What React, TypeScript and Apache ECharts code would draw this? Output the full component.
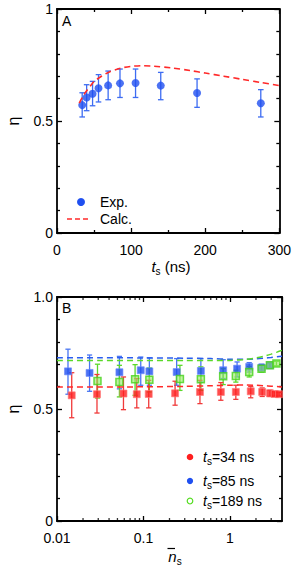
import React, { useEffect, useRef } from 'react';
import * as echarts from 'echarts';

// ---------- Panel A data ----------
const tsExp = [34, 40, 48, 56, 69, 85, 106, 140, 189, 275];
const etaExp = [0.571, 0.605, 0.622, 0.646, 0.659, 0.668, 0.670, 0.658, 0.625, 0.579];
const etaExpLo = [0.518, 0.546, 0.568, 0.585, 0.595, 0.605, 0.605, 0.595, 0.561, 0.518];
const etaExpHi = [0.626, 0.662, 0.677, 0.707, 0.723, 0.732, 0.732, 0.717, 0.688, 0.640];

const tsCalc = [30, 35, 40, 45, 50, 60, 70, 80, 90, 100, 115, 130, 155, 180, 200, 225, 250, 275, 300];
const etaCalc = [0.58, 0.61, 0.635, 0.656, 0.676, 0.700, 0.718, 0.730, 0.739, 0.744, 0.747, 0.745, 0.737, 0.725, 0.714, 0.700, 0.686, 0.672, 0.658];

// ---------- Panel B data ----------
const nRed = [0.0148, 0.029, 0.0587, 0.0837, 0.115, 0.232, 0.45, 0.785, 1.17, 1.74, 2.36, 2.9, 3.3, 3.7];
const etaRed = [0.561, 0.566, 0.569, 0.566, 0.567, 0.570, 0.576, 0.576, 0.576, 0.579, 0.576, 0.570, 0.567, 0.566];
const etaRedLo = [0.461, 0.482, 0.497, 0.505, 0.505, 0.517, 0.524, 0.539, 0.543, 0.550, 0.556, 0.556, 0.558, 0.558];
const etaRedHi = [0.662, 0.654, 0.643, 0.636, 0.628, 0.624, 0.628, 0.618, 0.606, 0.600, 0.594, 0.584, 0.576, 0.574];

const nBlue = [0.0134, 0.0238, 0.0527, 0.093, 0.117, 0.242, 0.461, 0.835, 1.21, 1.67, 2.32, 2.9];
const etaBlue = [0.668, 0.661, 0.664, 0.673, 0.668, 0.665, 0.670, 0.673, 0.680, 0.688, 0.685, 0.695];
const etaBlueLo = [0.566, 0.579, 0.590, 0.606, 0.606, 0.606, 0.620, 0.636, 0.643, 0.665, 0.670, 0.685];
const etaBlueHi = [0.767, 0.741, 0.735, 0.732, 0.729, 0.725, 0.725, 0.720, 0.710, 0.707, 0.700, 0.705];

const nGreen = [0.0294, 0.0527, 0.080, 0.117, 0.264, 0.461, 0.835, 1.17, 1.67, 2.32, 2.9, 3.45];
const etaGreen = [0.625, 0.620, 0.633, 0.631, 0.634, 0.633, 0.646, 0.647, 0.665, 0.680, 0.695, 0.703];
const etaGreenLo = [0.549, 0.554, 0.561, 0.576, 0.583, 0.583, 0.609, 0.620, 0.643, 0.665, 0.683, 0.693];
const etaGreenHi = [0.700, 0.695, 0.698, 0.683, 0.695, 0.688, 0.680, 0.673, 0.690, 0.695, 0.707, 0.713];

const nCalc = [0.01, 0.03, 0.1, 0.3, 0.6, 1, 1.5, 2, 2.5, 3, 3.5, 4];
const etaCalcRed = [0.598, 0.598, 0.599, 0.601, 0.604, 0.606, 0.607, 0.606, 0.604, 0.602, 0.600, 0.598];
const etaCalcBlue = [0.729, 0.729, 0.728, 0.727, 0.725, 0.722, 0.722, 0.724, 0.727, 0.730, 0.733, 0.736];
const etaCalcGreen = [0.716, 0.716, 0.716, 0.716, 0.716, 0.717, 0.721, 0.728, 0.736, 0.745, 0.754, 0.762];

// ---------- Ticks ----------
const yTickValues = [0, 0.5, 1];
const yTickLabelsA = ['0', '0.5', '1'];
const yTickLabelsB = ['0', '0.5', '1.0'];
const xTickValuesB = [0.01, 0.1, 1];
const xTickLabelsB = ['0.01', '0.1', '1'];
const xMinorTicksB = [0.02, 0.03, 0.04, 0.05, 0.06, 0.07, 0.08, 0.09, 0.2, 0.3, 0.4, 0.5, 0.6, 0.7, 0.8, 0.9, 2, 3];

const FONT = 'Liberation Sans, Arial, sans-serif';

const zip2 = (a: number[], b: number[]) => a.map((v, i) => [v, b[i]]);
const zip3 = (a: number[], b: number[], c: number[]) => a.map((v, i) => [v, b[i], c[i]]);

function errRender(color: string, cap: number) {
  return (params: any, api: any) => {
    const x = api.value(0);
    const lo = api.value(1);
    const hi = api.value(2);
    const pLo = api.coord([x, lo]);
    const pHi = api.coord([x, hi]);
    const style = { stroke: color, lineWidth: 1.3, fill: 'none' };
    return {
      type: 'group',
      children: [
        { type: 'line', shape: { x1: pLo[0], y1: pLo[1], x2: pHi[0], y2: pHi[1] }, style },
        { type: 'line', shape: { x1: pLo[0] - cap, y1: pLo[1], x2: pLo[0] + cap, y2: pLo[1] }, style },
        { type: 'line', shape: { x1: pHi[0] - cap, y1: pHi[1], x2: pHi[0] + cap, y2: pHi[1] }, style },
      ],
    };
  };
}

const axisLine = { show: true, onZero: false, lineStyle: { color: '#000', width: 1.8 } };
const tickStyle = { show: true, inside: true, length: 5, lineStyle: { color: '#000', width: 1.3 } };
const minorStyle = { inside: true, length: 3, lineStyle: { color: '#000', width: 1.3 } };
const labelStyle = { color: '#000', fontSize: 14, fontFamily: FONT };

function yAxisFor(grid: number, right: boolean, labels: string[]) {
  return {
    type: 'value',
    gridIndex: grid,
    position: right ? 'right' : 'left',
    min: 0,
    max: 1,
    interval: 0.5,
    axisLine,
    axisTick: tickStyle,
    minorTick: { show: true, splitNumber: 5, ...minorStyle },
    splitLine: { show: false },
    minorSplitLine: { show: false },
    axisLabel: right
      ? { show: false }
      : {
          ...labelStyle,
          margin: 4,
          formatter: (v: number) => {
            const i = yTickValues.findIndex((t) => Math.abs(t - v) < 1e-6);
            return i >= 0 ? labels[i] : '';
          },
        },
  };
}

function xAxisA(top: boolean) {
  return {
    type: 'value',
    gridIndex: 0,
    position: top ? 'top' : 'bottom',
    min: 0,
    max: 300,
    interval: 100,
    axisLine,
    axisTick: tickStyle,
    minorTick: { show: true, splitNumber: 2, ...minorStyle },
    splitLine: { show: false },
    minorSplitLine: { show: false },
    axisLabel: top ? { show: false } : { ...labelStyle, margin: 10 },
  };
}

function xAxisB(top: boolean) {
  return {
    type: 'log',
    logBase: 10,
    gridIndex: 1,
    position: top ? 'top' : 'bottom',
    min: 0.01,
    max: 4,
    axisLine,
    axisTick: tickStyle,
    minorTick: { show: false },
    splitLine: { show: false },
    axisLabel: top
      ? { show: false }
      : {
          ...labelStyle,
          margin: 10,
          showMaxLabel: false,
          formatter: (v: number) => {
            const i = xTickValuesB.findIndex((t) => Math.abs(Math.log10(t) - Math.log10(v)) < 1e-6);
            return i >= 0 ? xTickLabelsB[i] : '';
          },
        },
  };
}

const RED = '#ff1f1f';
const BLUE = '#1f4ff0';
const GREEN = '#55dd22';

const subRich = {
  i: { fontStyle: 'italic', fontSize: 15, fontFamily: FONT, color: '#000', lineHeight: 20 },
  s: { fontSize: 10, fontFamily: FONT, color: '#000', lineHeight: 20, verticalAlign: 'bottom', padding: [6, 0, 0, 0] },
  n: { fontSize: 15, fontFamily: FONT, color: '#000', lineHeight: 20 },
};
const legRich = {
  i: { fontStyle: 'italic', fontSize: 14, fontFamily: FONT, color: '#000', lineHeight: 18 },
  s: { fontSize: 10, fontFamily: FONT, color: '#000', lineHeight: 18, verticalAlign: 'bottom', padding: [6, 0, 0, 0] },
  n: { fontSize: 14, fontFamily: FONT, color: '#000', lineHeight: 18 },
};

export default function App() {
  const ref = useRef<HTMLDivElement>(null);
  useEffect(() => {
    if (!ref.current) return;
    const chart = echarts.init(ref.current, null, { renderer: 'svg' });
    const option: any = {
      animation: false,
      backgroundColor: '#fff',
      grid: [
        { left: 57, top: 9, width: 225, height: 224 },
        { left: 57, top: 297, width: 225, height: 224 },
      ],
      xAxis: [xAxisA(false), xAxisA(true), xAxisB(false), xAxisB(true)],
      yAxis: [
        yAxisFor(0, false, yTickLabelsA),
        yAxisFor(0, true, yTickLabelsA),
        yAxisFor(1, false, yTickLabelsB),
        yAxisFor(1, true, yTickLabelsB),
      ],
      series: [
        // ---- Panel A ----
        {
          type: 'line',
          xAxisIndex: 0,
          yAxisIndex: 0,
          data: zip2(tsCalc, etaCalc),
          showSymbol: false,
          smooth: 0.3,
          lineStyle: { color: '#ff2a2a', width: 1.6, type: [6, 4] },
        },
        {
          type: 'custom',
          xAxisIndex: 0,
          yAxisIndex: 0,
          data: zip3(tsExp, etaExpLo, etaExpHi),
          encode: { x: 0, y: [1, 2] },
          renderItem: errRender('#3d6cf2', 2.8),
        },
        {
          type: 'scatter',
          xAxisIndex: 0,
          yAxisIndex: 0,
          data: zip2(tsExp, etaExp),
          symbol: 'circle',
          symbolSize: 8,
          itemStyle: { color: BLUE },
        },
        // ---- Panel B: calc dashed lines ----
        {
          type: 'line',
          xAxisIndex: 2,
          yAxisIndex: 2,
          data: zip2(nCalc, etaCalcRed),
          showSymbol: false,
          smooth: 0.3,
          lineStyle: { color: '#ff2a2a', width: 1.5, type: [6, 4] },
        },
        {
          type: 'line',
          xAxisIndex: 2,
          yAxisIndex: 2,
          data: zip2(nCalc, etaCalcBlue),
          showSymbol: false,
          smooth: 0.3,
          lineStyle: { color: '#2a5cf0', width: 1.5, type: [6, 4] },
        },
        {
          type: 'line',
          xAxisIndex: 2,
          yAxisIndex: 2,
          data: zip2(nCalc, etaCalcGreen),
          showSymbol: false,
          smooth: 0.3,
          lineStyle: { color: '#5ad82a', width: 1.5, type: [6, 4] },
        },
        // ---- Panel B: blue ----
        {
          type: 'custom',
          xAxisIndex: 2,
          yAxisIndex: 2,
          data: zip3(nBlue, etaBlueLo, etaBlueHi),
          encode: { x: 0, y: [1, 2] },
          renderItem: errRender('#4a76f2', 2.6),
        },
        {
          type: 'scatter',
          xAxisIndex: 2,
          yAxisIndex: 2,
          data: zip2(nBlue, etaBlue),
          symbol: 'rect',
          symbolSize: 7,
          itemStyle: { color: BLUE, borderColor: 'rgba(110,140,250,0.8)', borderWidth: 1 },
        },
        // ---- Panel B: green ----
        {
          type: 'custom',
          xAxisIndex: 2,
          yAxisIndex: 2,
          data: zip3(nGreen, etaGreenLo, etaGreenHi),
          encode: { x: 0, y: [1, 2] },
          renderItem: errRender('#5ad82a', 2.6),
        },
        {
          type: 'scatter',
          xAxisIndex: 2,
          yAxisIndex: 2,
          data: zip2(nGreen, etaGreen),
          symbol: 'rect',
          symbolSize: 7,
          itemStyle: { color: 'rgba(150,235,100,0.75)', borderColor: '#46d21c', borderWidth: 1.5 },
        },
        // ---- Panel B: red ----
        {
          type: 'custom',
          xAxisIndex: 2,
          yAxisIndex: 2,
          data: zip3(nRed, etaRedLo, etaRedHi),
          encode: { x: 0, y: [1, 2] },
          renderItem: errRender('#f03a3a', 2.6),
        },
        {
          type: 'scatter',
          xAxisIndex: 2,
          yAxisIndex: 2,
          data: zip2(nRed, etaRed),
          symbol: 'rect',
          symbolSize: 7,
          itemStyle: { color: RED, borderColor: 'rgba(255,120,120,0.8)', borderWidth: 1 },
        },
        // ---- Panel B: log minor ticks (bottom and top) ----
        {
          type: 'scatter',
          xAxisIndex: 2,
          yAxisIndex: 2,
          data: xMinorTicksB.map((v) => [v, 0]),
          symbol: 'rect',
          symbolSize: [1.3, 3],
          symbolOffset: [0, -1.5],
          clip: false,
          silent: true,
          itemStyle: { color: '#000' },
        },
        {
          type: 'scatter',
          xAxisIndex: 2,
          yAxisIndex: 2,
          data: xMinorTicksB.map((v) => [v, 1]),
          symbol: 'rect',
          symbolSize: [1.3, 3],
          symbolOffset: [0, 1.5],
          clip: false,
          silent: true,
          itemStyle: { color: '#000' },
        },
      ],
      graphic: [
        // panel letters
        { type: 'text', left: 62, top: 14, style: { text: 'A', fontSize: 14, fontFamily: FONT, fill: '#000' } },
        { type: 'text', left: 62, top: 301, style: { text: 'B', fontSize: 14, fontFamily: FONT, fill: '#000' } },
        // y titles
        {
          type: 'text',
          x: 13,
          y: 121,
          rotation: Math.PI / 2,
          style: { text: 'η', fontSize: 16, fontFamily: FONT, fill: '#000', align: 'center', verticalAlign: 'middle' },
        },
        {
          type: 'text',
          x: 13,
          y: 409,
          rotation: Math.PI / 2,
          style: { text: 'η', fontSize: 16, fontFamily: FONT, fill: '#000', align: 'center', verticalAlign: 'middle' },
        },
        // x title A
        {
          type: 'text',
          x: 171,
          y: 266,
          style: { text: '{i|t}{s|s}{n| (ns)}', rich: subRich, align: 'center', verticalAlign: 'middle' },
        },
        // x title B
        {
          type: 'text',
          x: 175,
          y: 556,
          style: { text: '{i|n}{s|s}', rich: subRich, align: 'center', verticalAlign: 'middle' },
        },
        { type: 'line', shape: { x1: 167.5, y1: 548.5, x2: 175, y2: 548.5 }, style: { stroke: '#000', lineWidth: 1.2 } },
        // legend A
        { type: 'circle', shape: { cx: 81, cy: 202, r: 4 }, style: { fill: BLUE } },
        { type: 'text', x: 100, y: 202, style: { text: 'Exp.', fontSize: 14, fontFamily: FONT, fill: '#000', verticalAlign: 'middle' } },
        { type: 'line', shape: { x1: 67, y1: 219, x2: 89, y2: 219 }, style: { stroke: '#ff2a2a', lineWidth: 1.6, lineDash: [5, 3] } },
        { type: 'text', x: 100, y: 219, style: { text: 'Calc.', fontSize: 14, fontFamily: FONT, fill: '#000', verticalAlign: 'middle' } },
        // legend B
        { type: 'circle', shape: { cx: 190, cy: 457, r: 3.3 }, style: { fill: RED } },
        { type: 'text', x: 203, y: 457, style: { text: '{i|t}{s|s}{n|=34 ns}', rich: legRich, verticalAlign: 'middle' } },
        { type: 'circle', shape: { cx: 190, cy: 481, r: 3.1 }, style: { fill: BLUE } },
        { type: 'text', x: 203, y: 481, style: { text: '{i|t}{s|s}{n|=85 ns}', rich: legRich, verticalAlign: 'middle' } },
        { type: 'circle', shape: { cx: 190, cy: 501, r: 2.8 }, style: { fill: '#fff', stroke: '#55dd22', lineWidth: 1.2 } },
        { type: 'text', x: 203, y: 501, style: { text: '{i|t}{s|s}{n|=189 ns}', rich: legRich, verticalAlign: 'middle' } },
      ],
    };
    chart.setOption(option);
    return () => chart.dispose();
  }, []);
  return <div ref={ref} style={{ position: 'fixed', left: 0, top: 0, width: 294, height: 569, background: '#fff' }} />;
}
